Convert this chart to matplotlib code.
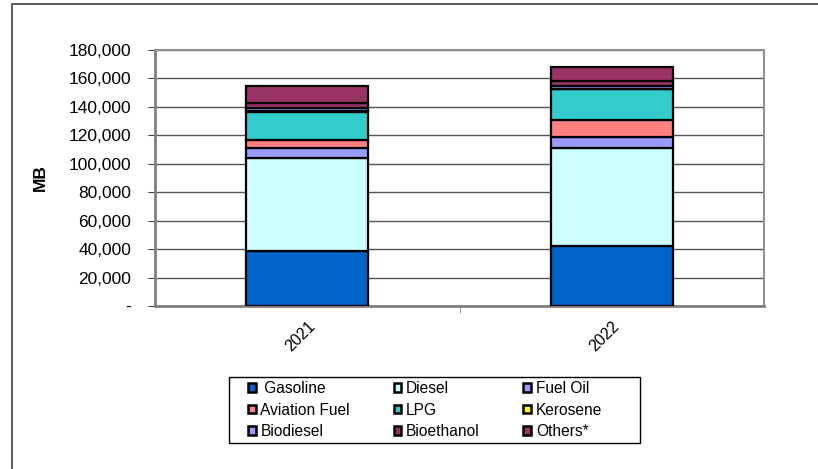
import matplotlib
matplotlib.use("Agg")
import matplotlib.pyplot as plt
from matplotlib.patches import Rectangle, Patch
from matplotlib.ticker import FuncFormatter, FixedLocator

plt.rcParams['font.family'] = ['Liberation Sans', 'DejaVu Sans']

years = ["2021", "2022"]
series = ["Gasoline", "Diesel", "Fuel Oil", "Aviation Fuel", "LPG",
          "Kerosene", "Biodiesel", "Bioethanol", "Others*"]
gasoline = [38700, 42400]
diesel = [65200, 68700]
fuel_oil = [7000, 7700]
aviation = [5500, 12000]
lpg = [20000, 21500]
kerosene = [500, 400]
biodiesel = [2000, 1700]
bioethanol = [4000, 3800]
others = [11800, 10000]
values = [gasoline, diesel, fuel_oil, aviation, lpg, kerosene, biodiesel, bioethanol, others]
colors = ["#0066CC", "#CCFFFF", "#9999FF", "#FF8080", "#33CCCC",
          "#FFFF00", "#9999FF", "#993366", "#993366"]
yticks = [0, 20000, 40000, 60000, 80000, 100000, 120000, 140000, 160000, 180000]

fig = plt.figure(figsize=(8.18, 4.69), dpi=100)
W, H = 818, 469
ax = fig.add_axes([155 / W, 1 - 306 / H, (764 - 155) / W, (306 - 50) / H])

x = list(range(len(years)))
bottom = [0] * len(years)
for name, vals, c in zip(series, values, colors):
    ax.bar(x, vals, width=0.4, bottom=bottom, color=c, edgecolor="black",
           linewidth=1.6, zorder=3)
    bottom = [b + v for b, v in zip(bottom, vals)]

ax.set_xlim(-0.5, 1.5)
ax.set_ylim(0, 180000)
ax.yaxis.set_major_locator(FixedLocator(yticks))
ax.yaxis.set_major_formatter(FuncFormatter(lambda v, p: "-" if v == 0 else f"{int(v):,}"))
ax.grid(axis="y", color="#555555", linewidth=1, zorder=0)
ax.set_xticks(x)
ax.set_xticklabels(years, rotation=45, ha="right", rotation_mode="anchor", fontsize=11.5)
ax.set_xticks([0.5], minor=True)
ax.tick_params(axis="x", which="major", length=0, pad=9)
ax.tick_params(axis="x", which="minor", length=5, color="#808080")
ax.tick_params(axis="y", length=5, color="#404040", labelsize=12.5, pad=12)
for s in ["left", "bottom"]:
    ax.spines[s].set_color("#808080")
    ax.spines[s].set_linewidth(2)
for s in ["top", "right"]:
    ax.spines[s].set_color("#909090")
    ax.spines[s].set_linewidth(1.5)
ax.set_ylabel("MB", fontsize=12.5, fontweight="bold", labelpad=15)

order = [0, 3, 6, 1, 4, 7, 2, 5, 8]
handles = [Patch(facecolor=colors[i], edgecolor="black", linewidth=1.8) for i in order]
labels = [series[i] for i in order]
labels[0] = " Gasoline"
leg = fig.legend(handles, labels, ncol=3, loc="upper left",
                 bbox_to_anchor=(248 / W, 1 - 381 / H),
                 fontsize=11.2, frameon=False,
                 handlelength=0.5, handleheight=0.5,
                 handletextpad=0.3, labelspacing=0.42, borderpad=0,
                 columnspacing=2.8, borderaxespad=0)

fig.patches.append(Rectangle((229 / W, 1 - 443 / H), (640 - 229) / W, (443 - 377) / H,
                             transform=fig.transFigure, fill=False,
                             edgecolor="black", linewidth=1))
fig.patches.append(Rectangle((12 / W, -0.1), 1.2, 1 - 4 / H + 0.1,
                             transform=fig.transFigure, fill=False,
                             edgecolor="#404040", linewidth=1.2))

fig.savefig("out.png", dpi=100)
